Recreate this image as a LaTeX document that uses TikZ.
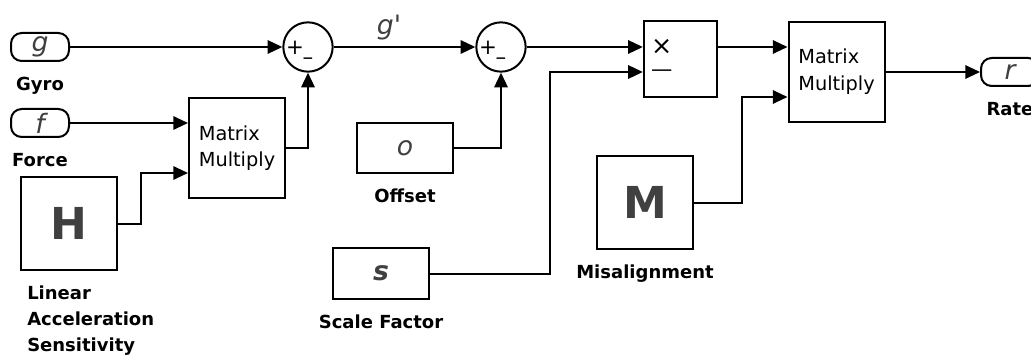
\documentclass[tikz,border=0pt]{standalone}
\usepackage{fontspec}
\setmainfont{DejaVu Sans}
\usetikzlibrary{positioning, calc, arrows.meta}
\definecolor{glyph}{RGB}{64,64,64}

\begin{document}
\begin{tikzpicture}[x=0.75pt, y=-0.75pt,
        block/.style={rectangle, draw, line width=1.5pt, inner sep=0pt, minimum width=72pt, align=left, font=\fontsize{14.5}{20}\selectfont},
        port/.style={rectangle, draw, line width=1.5pt, rounded corners=8pt, minimum width=43.5pt, minimum height=21pt, inner sep=0pt, font=\fontsize{20}{20}\selectfont\itshape, text=glyph},
        summer/.style={circle, draw, line width=1.5pt, minimum size=37pt, inner sep=0pt},
        sign/.style={font=\fontsize{16}{16}\selectfont, inner sep=0pt},
        lbl/.style={font=\fontsize{13.5}{19.5}\selectfont\bfseries, inner sep=0pt, align=left},
        sym/.style={font=\fontsize{20}{20}\selectfont\itshape, text=glyph},
        big/.style={font=\fontsize{33}{33}\selectfont\bfseries, text=glyph},
        conn/.style={line width=1.5pt, -{Triangle[length=11pt, width=10pt]}},
    ]
    \useasboundingbox (0,0) rectangle (1031,356);
    \clip (0,0) rectangle (1031,356);

    % ===== Inputs =====
    \node[port] (GIN) at (40,47) {g};
    \node[lbl, below=11pt of GIN] (GYRO) {Gyro};
    \node[port] (FIN) at (40,123) {f};
    \node[lbl, below=11pt of FIN] (FORCE) {Force};

    \node[block, big, minimum height=70pt] (HBOX) at (69,223.5) {H};
    \node[lbl, anchor=north west] (LAS) at ($(HBOX.south west)+(7,14)$)
        {Linear\\Acceleration\\Sensitivity};

    % ===== Gravity compensation =====
    \node[block, minimum height=75pt] (MM1) at (237,148) {Matrix\\Multiply};
    \node[summer] (SUM1) at (308,47) {};
    \node[sign] at ($(SUM1.center)+(-13,1)$) {+};
    \node[sign] at ($(SUM1.center)+(0,14)$) {–};

    \draw[conn] (GIN.east) -- (SUM1.west);
    \draw[conn] (FIN.east) -- (FIN.east -| MM1.west);
    \draw[conn] (HBOX.east) -- ++(23,0) |- ($(MM1.west)+(0,25)$);
    \draw[conn] (MM1.east) -| (SUM1.south);

    % ===== Offset =====
    \node[summer] (SUM2) at (501,47) {};
    \node[sign] at ($(SUM2.center)+(-13,1)$) {+};
    \node[sign] at ($(SUM2.center)+(0,14)$) {–};
    \node[sym] (GP) at (389,28) {g\textquotesingle};
    \node[block, sym, minimum height=37.5pt] (OBOX) at (405,148) {o};
    \node[lbl, below=11pt of OBOX] (OFFSET) {Offset};

    \draw[conn] (SUM1.east) -- (SUM2.west);
    \draw[conn] (OBOX.east) -| (SUM2.south);

    % ===== Scale factor =====
    \node[block, sym, minimum height=38pt] (SBOX) at (381,273.5) {\bfseries s};
    \node[lbl, below=11pt of SBOX] (SCALE) {Scale Factor};
    \node[block, minimum width=55pt, minimum height=57pt] (PROD) at (680.5,59.5) {};
    \node[sign, font=\fontsize{19}{19}\selectfont] at ($(PROD.west)+(19,-12.5)$) {×};
    \node[sign] at ($(PROD.west)+(19,14)$) {—};

    \draw[conn] (SUM2.east) -- ($(PROD.west)+(0,-12.5)$);
    \draw[conn] (SBOX.east) -- ++(120,0) |- ($(PROD.west)+(0,12.5)$);

    % ===== Misalignment =====
    \node[block, minimum height=75pt] (MM2) at (836.5,72) {Matrix\\Multiply};
    \node[block, big, minimum height=70pt] (MBOX) at (645,202.5) {M};
    \node[lbl, below=11pt of MBOX] (MISAL) {Misalignment};
    \node[port, anchor=west] (ROUT) at (980,72) {r};
    \node[lbl, below=11pt of ROUT] (RATE) {Rate};

    \draw[conn] ($(PROD.east)+(0,-12.5)$) -- ($(MM2.west)+(0,-25)$);
    \draw[conn] (MBOX.east) -- ++(48,0) |- ($(MM2.west)+(0,25)$);
    \draw[conn] (MM2.east) -- (ROUT.west);

\end{tikzpicture}
\end{document}
